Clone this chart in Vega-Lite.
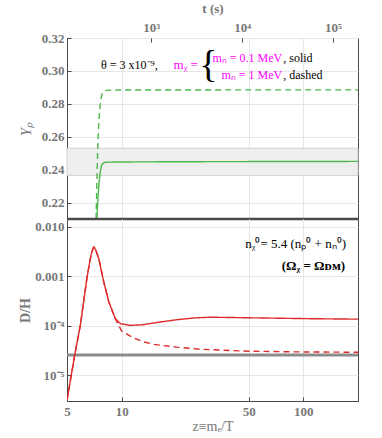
{
  "$schema": "https://vega.github.io/schema/vega-lite/v6.json",
  "padding": {"left": 18, "top": 1, "right": 5, "bottom": 2},
  "background": "white",
  "spacing": 0,
  "bounds": "flush",
  "config": {
    "view": {"stroke": "#4a4a4a", "strokeWidth": 1},
    "axis": {
      "labelFont": "Liberation Serif, Times New Roman, serif", "labelFontWeight": "bold", "labelFontSize": 13, "labelColor": "#777777",
      "titleFont": "Liberation Serif, Times New Roman, serif", "titleColor": "#777777", "titleFontSize": 14,
      "gridColor": "#e6e6e6", "gridWidth": 1, "tickColor": "#4a4a4a", "domainColor": "#4a4a4a",
      "tickSize": -4, "labelPadding": 7, "labelOverlap": false, "labelFlush": false
    },
    "text": {"font": "Liberation Serif, Times New Roman, serif"}
  },
  "datasets": {
    "yp": [
      {"z": 7.30, "Y": 0.21, "case": "solid"},
      {"z": 7.37, "Y": 0.219, "case": "solid"},
      {"z": 7.44, "Y": 0.2267, "case": "solid"},
      {"z": 7.52, "Y": 0.233, "case": "solid"},
      {"z": 7.61, "Y": 0.2378, "case": "solid"},
      {"z": 7.69, "Y": 0.2408, "case": "solid"},
      {"z": 7.77, "Y": 0.2429, "case": "solid"},
      {"z": 7.93, "Y": 0.2440, "case": "solid"},
      {"z": 8.11, "Y": 0.2445, "case": "solid"},
      {"z": 9.0, "Y": 0.2446, "case": "solid"},
      {"z": 12.0, "Y": 0.2447, "case": "solid"},
      {"z": 20.0, "Y": 0.2448, "case": "solid"},
      {"z": 50.0, "Y": 0.2449, "case": "solid"},
      {"z": 200.0, "Y": 0.245, "case": "solid"},
      {"z": 7.23, "Y": 0.21, "case": "dashed"},
      {"z": 7.30, "Y": 0.232, "case": "dashed"},
      {"z": 7.37, "Y": 0.250, "case": "dashed"},
      {"z": 7.44, "Y": 0.263, "case": "dashed"},
      {"z": 7.52, "Y": 0.272, "case": "dashed"},
      {"z": 7.61, "Y": 0.279, "case": "dashed"},
      {"z": 7.69, "Y": 0.2832, "case": "dashed"},
      {"z": 7.77, "Y": 0.2855, "case": "dashed"},
      {"z": 7.93, "Y": 0.2873, "case": "dashed"},
      {"z": 8.11, "Y": 0.288, "case": "dashed"},
      {"z": 8.5, "Y": 0.2883, "case": "dashed"},
      {"z": 10.0, "Y": 0.2884, "case": "dashed"},
      {"z": 200.0, "Y": 0.2885, "case": "dashed"}
    ],
    "dh": [
      {"z": 5.0, "DH": 3.1e-6, "case": "solid"},
      {"z": 5.51, "DH": 2.53e-5, "case": "solid"},
      {"z": 5.92, "DH": 1.02e-4, "case": "solid"},
      {"z": 6.45, "DH": 9.7e-4, "case": "solid"},
      {"z": 6.75, "DH": 2.5e-3, "case": "solid"},
      {"z": 6.95, "DH": 3.7e-3, "case": "solid"},
      {"z": 7.05, "DH": 3.94e-3, "case": "solid"},
      {"z": 7.2, "DH": 3.4e-3, "case": "solid"},
      {"z": 7.48, "DH": 2.3e-3, "case": "solid"},
      {"z": 7.97, "DH": 7.7e-4, "case": "solid"},
      {"z": 8.5, "DH": 3.03e-4, "case": "solid"},
      {"z": 9.24, "DH": 1.39e-4, "case": "solid"},
      {"z": 9.85, "DH": 1.1e-4, "case": "solid"},
      {"z": 11.1, "DH": 1.02e-4, "case": "solid"},
      {"z": 13.0, "DH": 1.05e-4, "case": "solid"},
      {"z": 16.3, "DH": 1.19e-4, "case": "solid"},
      {"z": 20.0, "DH": 1.32e-4, "case": "solid"},
      {"z": 24.9, "DH": 1.44e-4, "case": "solid"},
      {"z": 30.8, "DH": 1.49e-4, "case": "solid"},
      {"z": 58.0, "DH": 1.44e-4, "case": "solid"},
      {"z": 110.0, "DH": 1.39e-4, "case": "solid"},
      {"z": 200.0, "DH": 1.36e-4, "case": "solid"},
      {"z": 5.0, "DH": 3.1e-6, "case": "dashed"},
      {"z": 5.51, "DH": 2.53e-5, "case": "dashed"},
      {"z": 5.92, "DH": 1.02e-4, "case": "dashed"},
      {"z": 6.45, "DH": 9.7e-4, "case": "dashed"},
      {"z": 6.75, "DH": 2.5e-3, "case": "dashed"},
      {"z": 6.95, "DH": 3.7e-3, "case": "dashed"},
      {"z": 7.05, "DH": 3.94e-3, "case": "dashed"},
      {"z": 7.2, "DH": 3.4e-3, "case": "dashed"},
      {"z": 7.48, "DH": 2.3e-3, "case": "dashed"},
      {"z": 7.97, "DH": 7.7e-4, "case": "dashed"},
      {"z": 8.5, "DH": 3.0e-4, "case": "dashed"},
      {"z": 9.24, "DH": 1.37e-4, "case": "dashed"},
      {"z": 10.0, "DH": 7.8e-5, "case": "dashed"},
      {"z": 11.5, "DH": 5.8e-5, "case": "dashed"},
      {"z": 13.0, "DH": 4.8e-5, "case": "dashed"},
      {"z": 15.0, "DH": 4.2e-5, "case": "dashed"},
      {"z": 20.0, "DH": 3.7e-5, "case": "dashed"},
      {"z": 27.0, "DH": 3.35e-5, "case": "dashed"},
      {"z": 40.0, "DH": 3.15e-5, "case": "dashed"},
      {"z": 51.0, "DH": 3.05e-5, "case": "dashed"},
      {"z": 100.0, "DH": 2.95e-5, "case": "dashed"},
      {"z": 200.0, "DH": 2.91e-5, "case": "dashed"}
    ]
  },
  "vconcat": [
    {
      "width": 291,
      "height": 181,
      "resolve": {"scale": {"x": "independent"}},
      "encoding": {
        "y": {"type": "quantitative", "scale": {"domain": [0.21, 0.32], "nice": false, "zero": false},
          "axis": {"values": [0.22, 0.24, 0.26, 0.28, 0.30, 0.32], "format": ".2f", "title": "Yₚ", "titleFontStyle": "italic", "titleFontWeight": "normal", "titlePadding": 8, "grid": true, "tickCount": 6}}
      },
      "layer": [
        {
          "layer": [
            {
              "data": {"values": [{"lo": 0.2365, "hi": 0.253}]},
              "mark": {"type": "rect", "fill": "#efefef", "stroke": "#d2d2d2", "strokeWidth": 1},
              "encoding": {
                "x": {"datum": 5, "type": "quantitative", "scale": {"type": "log", "domain": [5, 200], "nice": false},
                  "axis": {"orient": "bottom", "values": [10, 50, 100], "labels": false, "ticks": false, "domain": false, "title": null, "grid": true}},
                "x2": {"datum": 200},
                "y": {"field": "lo", "type": "quantitative"},
                "y2": {"field": "hi"}
              }
            },
            {
              "data": {"name": "yp"},
              "mark": {"type": "line", "color": "#4cb84c", "strokeWidth": 1.4, "clip": true},
              "encoding": {
                "x": {"field": "z", "type": "quantitative"},
                "y": {"field": "Y", "type": "quantitative"},
                "detail": {"field": "case"},
                "strokeDash": {"field": "case", "type": "nominal", "scale": {"domain": ["solid", "dashed"], "range": [[1, 0], [6, 4]]}, "legend": null}
              }
            },
            {
              "data": {"values": [{}]},
              "mark": {"type": "rule", "color": "#4a4a4a", "strokeWidth": 2.5},
              "encoding": {"y": {"datum": 0.21, "type": "quantitative"}}
            },
            {
              "data": {"values": [{"label": "θ = 3 x10⁻⁹,"}]},
              "mark": {"type": "text", "align": "left", "baseline": "middle", "fontSize": 12, "color": "#000000", "font": "Liberation Serif, Times New Roman, serif"},
              "encoding": {"x": {"datum": 7.7, "type": "quantitative"}, "y": {"datum": 0.3036, "type": "quantitative"}, "text": {"field": "label"}}
            },
            {
              "data": {"values": [{"label": "mᵪ ="}]},
              "mark": {"type": "text", "align": "left", "baseline": "middle", "fontSize": 13, "color": "#ff00ff", "font": "Liberation Serif, Times New Roman, serif"},
              "encoding": {"x": {"datum": 19.3, "type": "quantitative"}, "y": {"datum": 0.3036, "type": "quantitative"}, "text": {"field": "label"}}
            },
            {
              "data": {"values": [{"label": "{"}]},
              "mark": {"type": "text", "align": "center", "baseline": "middle", "fontSize": 38, "color": "#000000", "font": "Liberation Serif, Times New Roman, serif"},
              "encoding": {"x": {"datum": 30, "type": "quantitative"}, "y": {"datum": 0.3030, "type": "quantitative"}, "text": {"field": "label"}}
            },
            {
              "data": {"values": [{"label": "mₙ = 0.1 MeV"}]},
              "mark": {"type": "text", "align": "right", "baseline": "middle", "fontSize": 12, "color": "#ff00ff", "font": "Liberation Serif, Times New Roman, serif"},
              "encoding": {"x": {"datum": 76.5, "type": "quantitative"}, "y": {"datum": 0.3079, "type": "quantitative"}, "text": {"field": "label"}}
            },
            {
              "data": {"values": [{"label": ", solid"}]},
              "mark": {"type": "text", "align": "left", "baseline": "middle", "fontSize": 12, "color": "#000000", "font": "Liberation Serif, Times New Roman, serif"},
              "encoding": {"x": {"datum": 77.5, "type": "quantitative"}, "y": {"datum": 0.3079, "type": "quantitative"}, "text": {"field": "label"}}
            },
            {
              "data": {"values": [{"label": "mₙ = 1 MeV"}]},
              "mark": {"type": "text", "align": "right", "baseline": "middle", "fontSize": 12, "color": "#ff00ff", "font": "Liberation Serif, Times New Roman, serif"},
              "encoding": {"x": {"datum": 76.5, "type": "quantitative"}, "y": {"datum": 0.2976, "type": "quantitative"}, "text": {"field": "label"}}
            },
            {
              "data": {"values": [{"label": ", dashed"}]},
              "mark": {"type": "text", "align": "left", "baseline": "middle", "fontSize": 12, "color": "#000000", "font": "Liberation Serif, Times New Roman, serif"},
              "encoding": {"x": {"datum": 77.5, "type": "quantitative"}, "y": {"datum": 0.2976, "type": "quantitative"}, "text": {"field": "label"}}
            }
          ]
        },
        {
          "data": {"values": [{}]},
          "mark": {"type": "point", "opacity": 0},
          "encoding": {
            "x": {"datum": 1000, "type": "quantitative", "scale": {"type": "log", "domain": [117.9, 188700], "nice": false},
              "axis": {"orient": "top", "values": [1000, 10000, 100000], "labelExpr": "datum.value < 5000 ? '10³' : datum.value < 50000 ? '10⁴' : '10⁵'", "title": "t (s)", "titleFontWeight": "bold", "titleFontSize": 13, "titlePadding": 6, "labelPadding": 8, "grid": false, "domain": false}},
            "y": {"datum": 0.25, "type": "quantitative"}
          }
        }
      ]
    },
    {
      "width": 291,
      "height": 182,
      "layer": [
        {
          "data": {"values": [{}]},
          "mark": {"type": "rule", "color": "#8c8c8c", "strokeWidth": 3},
          "encoding": {
            "y": {"datum": 2.55e-5, "type": "quantitative", "scale": {"type": "log", "domain": [3.0e-6, 0.0145], "nice": false}}
          }
        },
        {
          "data": {"name": "dh"},
          "mark": {"type": "line", "color": "#dd2a2a", "strokeWidth": 1.4, "clip": true},
          "encoding": {
            "x": {"field": "z", "type": "quantitative", "scale": {"type": "log", "domain": [5, 200], "nice": false},
              "axis": {"orient": "bottom", "values": [5, 10, 50, 100], "grid": true, "title": "z≡mₑ/T", "titleFontWeight": "normal", "titleFontSize": 14, "titlePadding": 1, "labelPadding": 8}},
            "y": {"field": "DH", "type": "quantitative", "scale": {"type": "log", "domain": [3.0e-6, 0.0145], "nice": false},
              "axis": {"values": [0.01, 0.001, 0.0001, 0.00001], "labelExpr": "datum.value > 0.005 ? '0.010' : datum.value > 0.0005 ? '0.001' : datum.value > 0.00005 ? '10⁻⁴' : '10⁻⁵'", "title": "D/H", "titleFontWeight": "bold", "titlePadding": 2, "grid": true}},
            "detail": {"field": "case"},
            "strokeDash": {"field": "case", "type": "nominal", "scale": {"domain": ["solid", "dashed"], "range": [[1, 0], [6, 4]]}, "legend": null}
          }
        },
        {
          "data": {"values": [{"label": "nᵪ⁰= 5.4 (nₚ⁰ + nₙ⁰)"}]},
          "mark": {"type": "text", "align": "right", "baseline": "middle", "fontSize": 13, "color": "#000000", "font": "Liberation Serif, Times New Roman, serif"},
          "encoding": {"x": {"datum": 171.8, "type": "quantitative"}, "y": {"datum": 0.00453, "type": "quantitative"}, "text": {"field": "label"}}
        },
        {
          "data": {"values": [{"label": "(Ωᵪ = Ωᴅᴍ)"}]},
          "mark": {"type": "text", "align": "right", "baseline": "middle", "fontSize": 13, "fontWeight": "bold", "color": "#000000", "font": "Liberation Serif, Times New Roman, serif"},
          "encoding": {"x": {"datum": 170, "type": "quantitative"}, "y": {"datum": 0.00162, "type": "quantitative"}, "text": {"field": "label"}}
        }
      ]
    }
  ]
}
